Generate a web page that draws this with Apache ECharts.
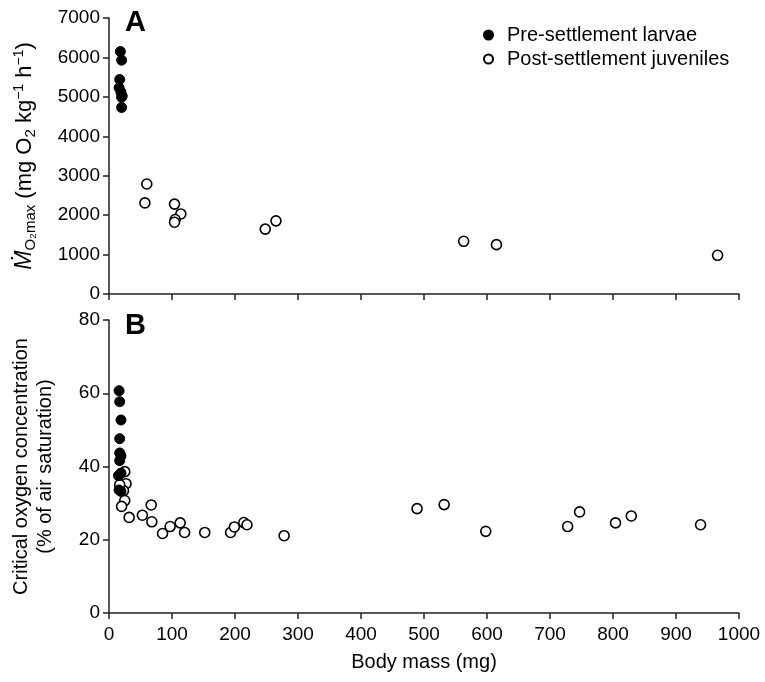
<!DOCTYPE html>
<html>
<head>
<meta charset="utf-8">
<script src="https://cdn.jsdelivr.net/npm/echarts@6/dist/echarts.min.js"></script>
<style>
  html, body { margin: 0; padding: 0; background: #fff; }
  #main { width: 765px; height: 682px; }
</style>
</head>
<body>
<div id="main"></div>
<script>
// panel A: maximum oxygen uptake
var larvaeMassA = [18, 20, 17, 16, 19, 21, 20, 20];
var larvaeMo2 = [6150, 5930, 5440, 5230, 5120, 5020, 4990, 4730];
var juvMassA = [60, 57, 104, 114, 105, 104, 248, 265, 563, 615, 966];
var juvMo2 = [2790, 2310, 2280, 2030, 1890, 1820, 1645, 1855, 1336, 1252, 981];

// panel B: critical oxygen concentration
var larvaeMassB = [16, 17, 19, 17, 17, 19, 17, 19, 15, 16, 19];
var larvaePcrit = [60.7, 57.7, 52.7, 47.6, 43.7, 42.9, 41.6, 38.2, 37.5, 33.6, 33.2];
var juvMassB = [25, 27, 23, 17, 25, 20, 32, 53, 67, 68, 85, 97, 113, 120, 152, 193, 199, 214, 219, 278,
                489, 532, 598, 728, 747, 804, 829, 939];
var juvPcrit = [38.6, 35.3, 33.4, 35.0, 30.7, 29.1, 26.1, 26.7, 29.5, 24.9, 21.7, 23.6, 24.6, 22.0, 22.0, 22.0, 23.5, 24.7, 24.1, 21.1,
                28.5, 29.6, 22.3, 23.6, 27.6, 24.6, 26.5, 24.1];

function zip(a, b) {
    return a.map(function (v, i) { return [v, b[i]]; });
}

var chart = echarts.init(document.getElementById('main'));
var font = 'Liberation Sans, Arial, Helvetica, sans-serif';
var axisCol = '#222';

var filled = { color: '#000', borderColor: '#000', borderWidth: 1, opacity: 1 };
var open = { color: '#fff', borderColor: '#000', borderWidth: 1.6, opacity: 1 };

function plain(v) { return String(v); }

function xAxisFor(idx, showLabels) {
    return {
        type: 'value', gridIndex: idx, min: 0, max: 1000, interval: 100,
        axisLine: { show: true, lineStyle: { color: axisCol, width: 1.5 } },
        axisTick: { show: true, length: 6, lineStyle: { color: axisCol, width: 1.5 } },
        axisLabel: { show: showLabels, color: '#000', fontSize: 19, fontFamily: font, margin: 12, formatter: plain },
        splitLine: { show: false },
        name: showLabels ? 'Body mass (mg)' : '',
        nameLocation: 'middle', nameGap: 39, nameMoveOverlap: false,
        nameTextStyle: { color: '#000', fontSize: 20, fontFamily: font }
    };
}

var option = {
    animation: false,
    backgroundColor: '#fff',
    textStyle: { fontFamily: font },
    title: [
        { text: 'A', left: 120, top: 3, textStyle: { fontSize: 29, fontWeight: 'bold', color: '#000', fontFamily: font } },
        { text: 'B', left: 120, top: 306, textStyle: { fontSize: 29, fontWeight: 'bold', color: '#000', fontFamily: font } }
    ],
    legend: {
        orient: 'vertical', left: 478, top: 20, itemWidth: 9, itemHeight: 9, itemGap: 4,
        icon: 'circle',
        textStyle: { fontSize: 20, color: '#000', fontFamily: font, padding: [0, 0, 0, 9] },
        data: ['Pre-settlement larvae', 'Post-settlement juveniles']
    },
    grid: [
        { left: 109, right: 26, top: 18, height: 276, outerBoundsMode: 'none' },
        { left: 109, right: 26, top: 320, height: 293, outerBoundsMode: 'none' }
    ],
    xAxis: [xAxisFor(0, false), xAxisFor(1, true)],
    yAxis: [
        {
            type: 'value', gridIndex: 0, min: 0, max: 7000, interval: 1000,
            axisLine: { show: true, lineStyle: { color: axisCol, width: 1.5 } },
            axisTick: { show: true, length: 6, lineStyle: { color: axisCol, width: 1.5 } },
            axisLabel: { color: '#000', fontSize: 19, fontFamily: font, margin: 9, formatter: plain },
            splitLine: { show: false },
            name: '{it|Ṁ}{sub|O₂max} (mg O{sub|2} kg{sup|−1} h{sup|−1})',
            nameLocation: 'middle', nameGap: 71, nameRotate: 90, nameMoveOverlap: false,
            nameTextStyle: {
                color: '#000', fontSize: 22, fontFamily: font, lineHeight: 26,
                rich: {
                    it: { fontSize: 23, fontStyle: 'italic', fontFamily: font, color: '#000', lineHeight: 26 },
                    sub: { fontSize: 15, fontFamily: font, color: '#000', lineHeight: 26, verticalAlign: 'bottom' },
                    sup: { fontSize: 14, fontFamily: font, color: '#000', lineHeight: 26, verticalAlign: 'top' }
                }
            }
        },
        {
            type: 'value', gridIndex: 1, min: 0, max: 80, interval: 20,
            axisLine: { show: true, lineStyle: { color: axisCol, width: 1.5 } },
            axisTick: { show: true, length: 6, lineStyle: { color: axisCol, width: 1.5 } },
            axisLabel: { color: '#000', fontSize: 19, fontFamily: font, margin: 9, formatter: plain },
            splitLine: { show: false },
            name: 'Critical oxygen concentration\n(% of air saturation)',
            nameLocation: 'middle', nameGap: 52, nameRotate: 90, nameMoveOverlap: false,
            nameTextStyle: { color: '#000', fontSize: 20, fontFamily: font, lineHeight: 24 }
        }
    ],
    series: [
        {
            name: 'Pre-settlement larvae', type: 'scatter', xAxisIndex: 0, yAxisIndex: 0,
            symbol: 'circle', symbolSize: 10, itemStyle: filled, data: zip(larvaeMassA, larvaeMo2)
        },
        {
            name: 'Post-settlement juveniles', type: 'scatter', xAxisIndex: 0, yAxisIndex: 0,
            symbol: 'circle', symbolSize: 10, itemStyle: open, data: zip(juvMassA, juvMo2)
        },
        {
            name: 'Post-settlement juveniles', type: 'scatter', xAxisIndex: 1, yAxisIndex: 1,
            symbol: 'circle', symbolSize: 10, itemStyle: open, data: zip(juvMassB, juvPcrit)
        },
        {
            name: 'Pre-settlement larvae', type: 'scatter', xAxisIndex: 1, yAxisIndex: 1,
            symbol: 'circle', symbolSize: 10, itemStyle: filled, data: zip(larvaeMassB, larvaePcrit)
        }
    ]
};

chart.setOption(option);
</script>
</body>
</html>
